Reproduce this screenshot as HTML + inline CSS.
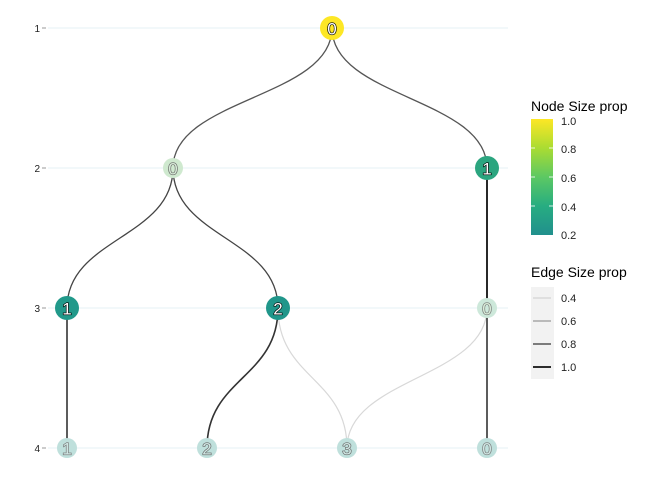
<!DOCTYPE html>
<html><head><meta charset="utf-8"><style>
html,body{margin:0;padding:0;background:#fff;}
svg{display:block;font-family:"Liberation Sans",sans-serif;}
.lab{font-size:17px;text-anchor:middle;dominant-baseline:central;paint-order:stroke;stroke-width:1.3px;}
</style></head><body>
<svg width="672" height="480" viewBox="0 0 672 480" xmlns="http://www.w3.org/2000/svg">
<g stroke="#e6f2f5" stroke-width="1">
<line x1="48" y1="28" x2="508" y2="28"/>
<line x1="48" y1="168" x2="508" y2="168"/>
<line x1="48" y1="308" x2="508" y2="308"/>
<line x1="48" y1="448" x2="508" y2="448"/>
</g>
<g font-size="10" fill="#222" text-anchor="end">
<text x="40" y="32">1</text><text x="40" y="172">2</text><text x="40" y="312">3</text><text x="40" y="452">4</text>
</g>
<g stroke="#999" stroke-width="1">
<line x1="42" y1="28" x2="46" y2="28"/><line x1="42" y1="168" x2="46" y2="168"/>
<line x1="42" y1="308" x2="46" y2="308"/><line x1="42" y1="448" x2="46" y2="448"/>
</g>
<g fill="none">
<path d="M332 28 C332 98,173 98,173 168" stroke="#555" stroke-width="1.3"/>
<path d="M332 28 C332 98,487 98,487 168" stroke="#555" stroke-width="1.3"/>
<path d="M173 168 C173 238,67 238,67 308" stroke="#444" stroke-width="1.3"/>
<path d="M173 168 C173 238,278 238,278 308" stroke="#444" stroke-width="1.3"/>
<path d="M487 168 L487 308" stroke="#111" stroke-width="1.8"/>
<path d="M67 308 L67 448" stroke="#333" stroke-width="1.6"/>
<path d="M278 308 C278 378,207 378,207 448" stroke="#333" stroke-width="1.6"/>
<path d="M278 308 C278 378,347 378,347 448" stroke="#d8d8d8" stroke-width="1.2"/>
<path d="M487 308 C487 378,347 378,347 448" stroke="#d8d8d8" stroke-width="1.2"/>
<path d="M487 308 L487 448" stroke="#333" stroke-width="1.6"/>
</g>
<circle cx="332" cy="28" r="12" fill="#fde725"/>
<circle cx="173" cy="168" r="10" fill="#cfe9cf"/>
<circle cx="487" cy="168" r="12" fill="#2ba57f"/>
<circle cx="67" cy="308" r="12" fill="#21998a"/>
<circle cx="278" cy="308" r="12" fill="#20968a"/>
<circle cx="487" cy="308" r="10" fill="#cde8da"/>
<circle cx="67" cy="448" r="10" fill="#bfe0dc"/>
<circle cx="207" cy="448" r="10" fill="#bfe0dc"/>
<circle cx="347" cy="448" r="10" fill="#bfe0dc"/>
<circle cx="487" cy="448" r="10" fill="#bfe0dc"/>
<g class="lab">
<text x="332" y="29" fill="#fff" stroke="#000">0</text>
<text x="173" y="169" fill="#d8ecd8" stroke="#666">0</text>
<text x="487" y="169" fill="#fff" stroke="#000">1</text>
<text x="67" y="309" fill="#fff" stroke="#000">1</text>
<text x="278" y="309" fill="#fff" stroke="#000">2</text>
<text x="487" y="309" fill="#d8ecd8" stroke="#777">0</text>
<text x="67" y="449" fill="#cfe6e3" stroke="#777">1</text>
<text x="207" y="449" fill="#cfe6e3" stroke="#666">2</text>
<text x="347" y="449" fill="#cfe6e3" stroke="#666">3</text>
<text x="487" y="449" fill="#cfe6e3" stroke="#777">0</text>
</g>
<defs><linearGradient id="vg" x1="0" y1="1" x2="0" y2="0">
<stop offset="0" stop-color="#21908d"/><stop offset="0.25" stop-color="#27ad81"/>
<stop offset="0.5" stop-color="#5cc863"/><stop offset="0.75" stop-color="#aadc32"/>
<stop offset="1" stop-color="#fde725"/></linearGradient></defs>
<text x="531" y="111" font-size="14" fill="#000">Node Size prop</text>
<rect x="531" y="119" width="22" height="116" fill="url(#vg)"/>
<g stroke="#fff" stroke-width="0.8">
<line x1="531" y1="148" x2="535" y2="148"/><line x1="549" y1="148" x2="553" y2="148"/>
<line x1="531" y1="177" x2="535" y2="177"/><line x1="549" y1="177" x2="553" y2="177"/>
<line x1="531" y1="206" x2="535" y2="206"/><line x1="549" y1="206" x2="553" y2="206"/>
</g>
<g font-size="11" fill="#222">
<text x="561" y="125">1.0</text><text x="561" y="153">0.8</text><text x="561" y="182">0.6</text>
<text x="561" y="211">0.4</text><text x="561" y="239">0.2</text>
</g>
<text x="531" y="277" font-size="14" fill="#000">Edge Size prop</text>
<rect x="531" y="287" width="23" height="92" fill="#f2f2f2"/>
<line x1="533" y1="298" x2="551" y2="298" stroke="#d4d4d4" stroke-width="1.2"/>
<line x1="533" y1="321" x2="551" y2="321" stroke="#999" stroke-width="1.3"/>
<line x1="533" y1="344" x2="551" y2="344" stroke="#555" stroke-width="1.5"/>
<line x1="533" y1="367" x2="551" y2="367" stroke="#111" stroke-width="1.8"/>
<g font-size="11" fill="#222">
<text x="561" y="302">0.4</text><text x="561" y="325">0.6</text>
<text x="561" y="348">0.8</text><text x="561" y="371">1.0</text>
</g>
</svg>
</body></html>
